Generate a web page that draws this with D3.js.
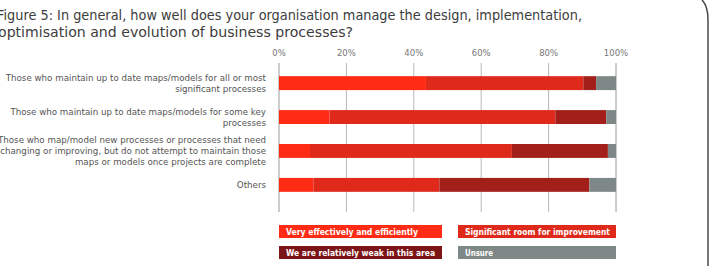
<!DOCTYPE html>
<html lang="en">
<head>
<meta charset="utf-8" />
<title>Figure 5</title>
<script src="https://d3js.org/d3.v7.min.js"></script>
<style>
    body { margin: 0; background: #fff; font-family: "DejaVu Sans", sans-serif; }
    svg { display: block; }
</style>
</head>
<body>
<script>
// data (percent of respondents)
const groups = [
    ["Those who maintain up to date maps/models for all or most", "significant processes"],
    ["Those who maintain up to date maps/models for some key", "processes"],
    ["Those who map/model new processes or processes that need", "changing or improving, but do not attempt to maintain those", "maps or models once projects are complete"],
    ["Others"]
];
const seriesNames = ["Very effectively and efficiently", "Significant room for improvement", "We are relatively weak in this area", "Unsure"];
const veryEffective = [43.6, 15.0, 9.2, 10.2];
const roomToImprove = [46.7, 67.0, 59.9, 37.4];
const relativelyWeak = [3.8, 15.1, 28.5, 44.5];
const unsure = [5.9, 2.9, 2.4, 7.9];
const tickValues = [0, 20, 40, 60, 80, 100];

const barColors = ["#ff2b14", "#df291b", "#a31f1a", "#7e8887"];
const legendColors = ["#ff2b14", "#df291b", "#7c1517", "#7e8887"];

const W = 710, H = 266;
const svg = d3.select("body").append("svg").attr("width", W).attr("height", H);

// title (squeezed to the width of the original typeface)
const title = svg.append("text")
    .attr("fill", "#3d3d3d")
    .attr("font-size", 13.5);
title.append("tspan").attr("x", -3).attr("y", 20)
    .attr("textLength", 585).attr("lengthAdjust", "spacingAndGlyphs")
    .text("Figure 5: In general, how well does your organisation manage the design, implementation,");
title.append("tspan").attr("x", -2).attr("y", 37)
    .attr("textLength", 355).attr("lengthAdjust", "spacingAndGlyphs")
    .text("optimisation and evolution of business processes?");

// frame edge on the right
svg.append("path")
    .attr("d", "M702,0 Q708,6 708,20 L708,266")
    .attr("fill", "none")
    .attr("stroke", "#4a4a4a")
    .attr("stroke-width", 1.5);

const x = d3.scaleLinear().domain([0, 100]).range([279, 616]);
const y = d3.scaleBand().domain(d3.range(groups.length)).range([66, 202]).paddingInner(0.59).paddingOuter(0.3);

// gridlines + ticks
svg.append("g").selectAll("line")
    .data(tickValues).join("line")
    .attr("x1", d => x(d)).attr("x2", d => x(d))
    .attr("y1", 63).attr("y2", 212)
    .attr("stroke", d => (d === 0 || d === 100) ? "#9a9a9a" : "#b8b8b8")
    .attr("stroke-width", 1);

svg.append("g").selectAll("text")
    .data(tickValues).join("text")
    .attr("x", d => x(d)).attr("y", 56)
    .attr("text-anchor", "middle")
    .attr("font-size", 8.5)
    .attr("fill", "#777")
    .text(d => d + "%");

// stacked bars
const rows = groups.map((g, i) => ({
    i, vals: [veryEffective[i], roomToImprove[i], relativelyWeak[i], unsure[i]]
}));
const stacked = d3.stack().keys([0, 1, 2, 3]).value((d, k) => d.vals[k])(rows);

svg.append("g").selectAll("g")
    .data(stacked).join("g")
    .attr("fill", (d, k) => barColors[k])
    .selectAll("rect")
    .data(d => d).join("rect")
    .attr("x", d => x(d[0]))
    .attr("width", d => x(d[1]) - x(d[0]))
    .attr("y", d => y(d.data.i))
    .attr("height", y.bandwidth());

// category labels
const lineH = 11;
svg.append("g").selectAll("text")
    .data(groups).join("text")
    .attr("text-anchor", "end")
    .attr("font-size", 8.7)
    .attr("fill", "#555")
    .each(function (lines, i) {
        const cy = y(i) + y.bandwidth() / 2;
        const top = cy - (lines.length - 1) * lineH / 2;
        d3.select(this).selectAll("tspan")
            .data(lines).join("tspan")
            .attr("x", 266)
            .attr("y", (l, j) => top + j * lineH + 3.2)
            .text(l => l);
    });

// legend
const legendPos = [[279, 225], [458, 225], [279, 246], [458, 246]];
const legendW = [163, 158, 163, 158];
const legendTextW = [132, 145, 149, 28];
const lg = svg.append("g").selectAll("g")
    .data(seriesNames).join("g")
    .attr("transform", (d, k) => `translate(${legendPos[k][0]},${legendPos[k][1]})`);
lg.append("rect")
    .attr("width", (d, k) => legendW[k]).attr("height", 13)
    .attr("fill", (d, k) => legendColors[k]);
lg.append("text")
    .attr("x", 7).attr("y", 10)
    .attr("font-size", 9)
    .attr("font-weight", "bold")
    .attr("fill", "#fff")
    .attr("textLength", (d, k) => legendTextW[k])
    .attr("lengthAdjust", "spacingAndGlyphs")
    .text(d => d);
</script>
</body>
</html>
